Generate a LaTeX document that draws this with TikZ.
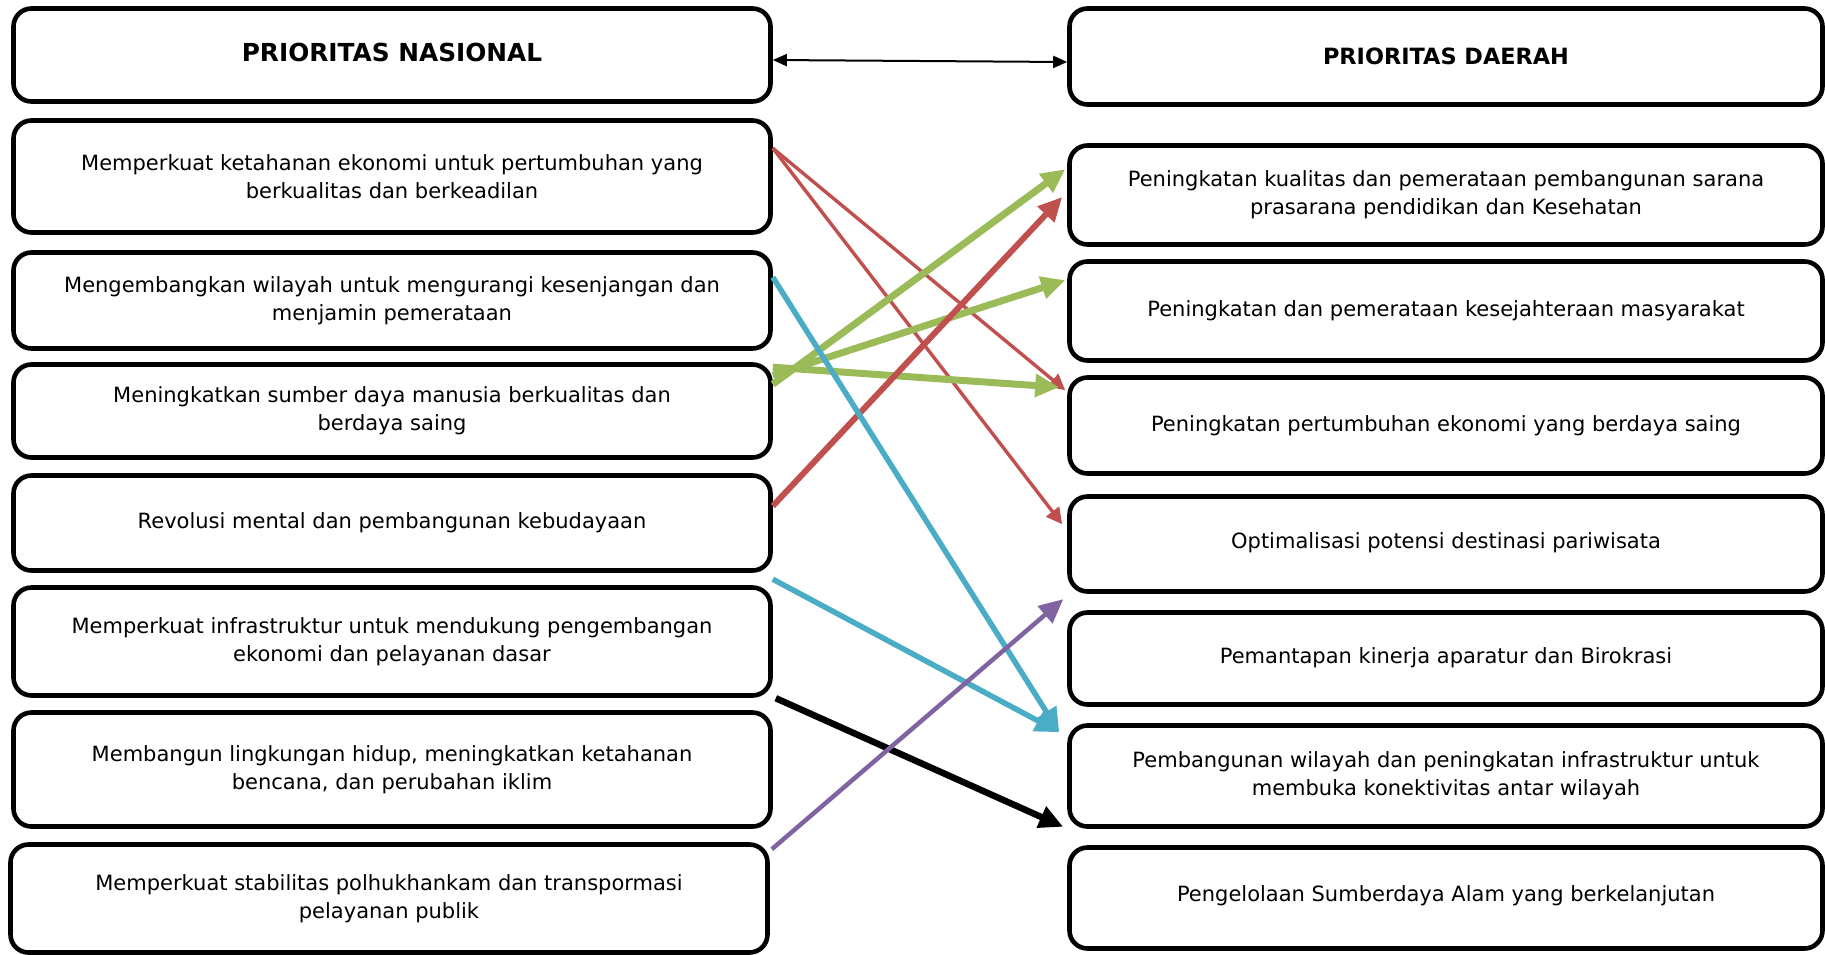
\documentclass[tikz,border=0pt]{standalone}
\usepackage{fontspec}
\setmainfont{DejaVu Sans}
\usetikzlibrary{arrows.meta}
\definecolor{ofred}{HTML}{C0504D}
\definecolor{ofgreen}{HTML}{9BBB59}
\definecolor{ofblue}{HTML}{4BACC6}
\definecolor{ofpurple}{HTML}{8064A2}
\tikzstyle{prio} = [rectangle, rounded corners=9pt, minimum width=378.5pt, minimum height=48pt, align=center, draw=black, line width=2.3pt, font=\fontsize{10.5}{14}\selectfont]
\tikzstyle{link} = [line width=3pt, -{Triangle[length=12pt,width=11pt]}]
\tikzstyle{thinlink} = [line width=1.7pt, -{Triangle[length=8pt,width=8pt]}]
\tikzstyle{duallink} = [line width=1pt, {Triangle[length=7pt,width=6pt]}-{Triangle[length=7pt,width=6pt]}]

\begin{document}
\begin{tikzpicture}[x=0.5pt,y=-0.5pt]
		\useasboundingbox (0,0) rectangle (1825,954);
		% prioritas nasional
		\node (nas0) [prio, minimum height=46.5pt] at (392,55) {\raisebox{3pt}{\fontsize{12.4}{14}\selectfont\textbf{PRIORITAS NASIONAL}}};
		\node (nas1) [prio, minimum height=56pt] at (392,176.5) {Memperkuat ketahanan ekonomi untuk pertumbuhan yang\\berkualitas dan berkeadilan};
		\node (nas2) [prio] at (392,300.5) {Mengembangkan wilayah untuk mengurangi kesenjangan dan\\menjamin pemerataan};
		\node (nas3) [prio, minimum height=46.5pt] at (392,411) {Meningkatkan sumber daya manusia berkualitas dan\\berdaya saing};
		\node (nas4) [prio, minimum height=47.5pt] at (392,523) {Revolusi mental dan pembangunan kebudayaan};
		\node (nas5) [prio, minimum height=54pt] at (392,641.5) {Memperkuat infrastruktur untuk  mendukung pengembangan\\ekonomi dan pelayanan dasar};
		\node (nas6) [prio, minimum height=57pt] at (392,769.5) {Membangun lingkungan hidup, meningkatkan ketahanan\\bencana, dan perubahan iklim};
		\node (nas7) [prio, minimum height=54pt] at (389,898.5) {Memperkuat stabilitas polhukhankam dan transpormasi\\pelayanan publik};
		% prioritas daerah
		\node (dae0) [prio, minimum width=376.5pt] at (1446,56.5) {\fontsize{11.2}{14}\selectfont\textbf{PRIORITAS DAERAH}};
		\node (dae1) [prio, minimum width=376.5pt, minimum height=49.5pt] at (1446,195) {Peningkatan kualitas dan pemerataan pembangunan  sarana\\prasarana pendidikan dan Kesehatan};
		\node (dae2) [prio, minimum width=376.5pt, minimum height=49.5pt] at (1446,311) {Peningkatan dan pemerataan kesejahteraan masyarakat};
		\node (dae3) [prio, minimum width=376.5pt] at (1446,425.5) {Peningkatan pertumbuhan ekonomi yang  berdaya saing};
		\node (dae4) [prio, minimum width=376.5pt, minimum height=47.5pt] at (1446,544) {\raisebox{3pt}{Optimalisasi potensi destinasi pariwisata}};
		\node (dae5) [prio, minimum width=376.5pt, minimum height=46pt] at (1446,658.5) {\raisebox{3pt}{Pemantapan kinerja aparatur dan Birokrasi}};
		\node (dae6) [prio, minimum width=376.5pt, minimum height=50.5pt] at (1446,776) {Pembangunan wilayah dan peningkatan infrastruktur untuk\\membuka konektivitas antar wilayah};
		\node (dae7) [prio, minimum width=376.5pt, minimum height=50.5pt] at (1446,898) {\raisebox{4pt}{Pengelolaan Sumberdaya Alam yang berkelanjutan}};

		\draw [duallink] ([yshift=-2.5pt]nas0.east) -- ([yshift=-2.75pt]dae0.west);
		\draw [thinlink, ofred] ([yshift=-15pt]nas1.north east) -- ([xshift=-1pt,yshift=-7.5pt]dae3.north west);
		\draw [thinlink, ofred] ([yshift=-15pt]nas1.north east) -- ([xshift=-2.5pt,yshift=-15pt]dae4.north west);
		\draw [link, ofgreen, line width=3.5pt] ([yshift=-11pt]nas3.north east) -- ([xshift=-1pt,yshift=-13pt]dae1.north west);
		\draw [link, ofgreen, line width=3.5pt] ([yshift=-6.5pt]nas3.north east) -- ([xshift=-1pt,yshift=-10.5pt]dae2.north west);
		\draw [link, ofgreen, line width=3.5pt] ([yshift=-2.5pt]nas3.north east) -- ([xshift=-4pt,yshift=-6pt]dae3.north west);
		\draw [link, ofred] ([yshift=8.5pt]nas4.east) -- ([xshift=-2.5pt,yshift=-1pt]dae1.west);
		\draw [link, ofblue, line width=2.75pt] ([yshift=-13.5pt]nas2.north east) -- ([xshift=-4pt,yshift=-4.5pt]dae6.north west);
		\draw [link, ofblue, line width=2.75pt] ([yshift=3pt]nas5.north east) -- ([xshift=-4pt,yshift=-4.5pt]dae6.north west);
		\draw [link, black, line width=3.25pt] ([xshift=1.5pt,yshift=6pt]nas6.north east) -- ([xshift=-2pt,yshift=1pt]dae6.south west);
		\draw [link, ofpurple, line width=2.25pt] ([xshift=1pt,yshift=-3.5pt]nas7.north east) -- ([xshift=-2pt,yshift=5.5pt]dae5.north west);
\end{tikzpicture}
\end{document}
